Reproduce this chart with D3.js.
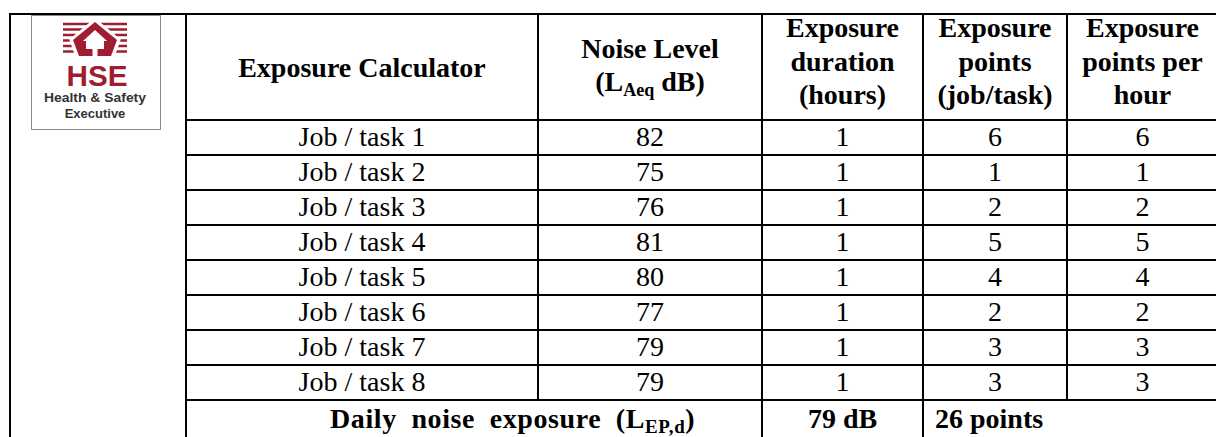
<!DOCTYPE html>
<html>
<head>
<meta charset="utf-8">
<title>Exposure Calculator</title>
<script src="https://d3js.org/d3.v7.min.js"></script>
<style>
  body { margin: 0; background: #fff; }
  text { font-family: "Liberation Serif", "Times New Roman", serif; fill: #000; }
  .logo text { font-family: "Liberation Sans", Arial, sans-serif; }
</style>
</head>
<body>
<script>
// table data
var tasks = ["Job / task 1", "Job / task 2", "Job / task 3", "Job / task 4",
             "Job / task 5", "Job / task 6", "Job / task 7", "Job / task 8"];
var noiseLevel = [82, 75, 76, 81, 80, 77, 79, 79];
var durationHours = [1, 1, 1, 1, 1, 1, 1, 1];
var pointsTask = [6, 1, 2, 5, 4, 2, 3, 3];
var pointsHour = [6, 1, 2, 5, 4, 2, 3, 3];
var headers = [
  ["Exposure Calculator"],
  ["Noise Level", "(L_{Aeq} dB)"],
  ["Exposure", "duration", "(hours)"],
  ["Exposure", "points", "(job/task)"],
  ["Exposure", "points per", "hour"]
];
var footerLabel = "Daily noise exposure (L_{EP,d})";
var dailyExposure = "79 dB";
var totalPoints = "26 points";

var width = 1216, height = 437;
var colEdges = [186, 538, 762, 923, 1067, 1218];
var tableTop = 14, headBottom = 120, tableLeft = 10;

var svg = d3.select("body").append("svg")
    .attr("width", width)
    .attr("height", height);

var y = d3.scaleBand()
    .domain(tasks)
    .range([headBottom, headBottom + 35 * tasks.length]);
var footTop = y.range()[1];

// text with _{sub} parts turned into tspans
function richText(sel, str, size, subSize) {
  var parts = str.split(/_\{([^}]*)\}/);
  var shift = 0;
  parts.forEach(function(p, i) {
    if (p === "") return;
    var isSub = i % 2 === 1;
    var want = isSub ? 5 : 0;
    sel.append("tspan")
      .attr("dy", want - shift)
      .attr("font-size", isSub ? subSize : size)
      .text(p);
    shift = want;
  });
}

// grid lines
var grid = svg.append("g")
    .attr("stroke", "#000")
    .attr("stroke-width", 2);

grid.append("line").attr("x1", tableLeft - 1).attr("x2", width + 5)
    .attr("y1", tableTop).attr("y2", tableTop);
grid.append("line").attr("x1", tableLeft).attr("x2", tableLeft)
    .attr("y1", tableTop).attr("y2", height + 5);
grid.append("line").attr("x1", colEdges[0]).attr("x2", colEdges[0])
    .attr("y1", tableTop).attr("y2", height + 5);

var hLines = [headBottom].concat(tasks.map(function(t) { return y(t) + y.bandwidth(); }));
grid.selectAll(".hline")
    .data(hLines)
    .enter().append("line")
    .attr("class", "hline")
    .attr("x1", colEdges[0]).attr("x2", width + 5)
    .attr("y1", function(d) { return d; })
    .attr("y2", function(d) { return d; });

// inner column separators (538 and 1067 stop at the footer, merged cells)
grid.selectAll(".vline")
    .data(colEdges.slice(1, 5))
    .enter().append("line")
    .attr("class", "vline")
    .attr("x1", function(d) { return d; })
    .attr("x2", function(d) { return d; })
    .attr("y1", tableTop)
    .attr("y2", function(d, i) { return (i === 1 || i === 2) ? height + 5 : footTop; });

// header
var headBase = { 1: [77], 2: [58, 91], 3: [37, 70.5, 104] };
headers.forEach(function(lines, c) {
  var cx = (colEdges[c] + colEdges[c + 1]) / 2;
  lines.forEach(function(line, j) {
    var t = svg.append("text")
      .attr("x", cx)
      .attr("y", headBase[lines.length][j])
      .attr("text-anchor", "middle")
      .attr("font-weight", "bold");
    richText(t, line, 28, 18);
  });
});

// body rows
var columns = [tasks, noiseLevel, durationHours, pointsTask, pointsHour];
columns.forEach(function(vals, c) {
  var cx = (colEdges[c] + colEdges[c + 1]) / 2;
  svg.selectAll(".c" + c)
    .data(vals)
    .enter().append("text")
    .attr("class", "c" + c)
    .attr("x", cx)
    .attr("y", function(d, i) { return y(tasks[i]) + y.bandwidth() - 9; })
    .attr("text-anchor", "middle")
    .attr("font-size", 28)
    .text(function(d) { return d; });
});

// footer row
var footBase = footTop + 28;
var ft = svg.append("text")
    .attr("x", 330)
    .attr("y", footBase)
    .attr("font-weight", "bold")
    .attr("letter-spacing", 0.6)
    .attr("word-spacing", 7);
richText(ft, footerLabel, 28, 19);
svg.append("text")
    .attr("x", (colEdges[2] + colEdges[3]) / 2)
    .attr("y", footBase)
    .attr("text-anchor", "middle")
    .attr("font-weight", "bold")
    .attr("font-size", 28)
    .text(dailyExposure);
svg.append("text")
    .attr("x", colEdges[3] + 12)
    .attr("y", footBase)
    .attr("font-weight", "bold")
    .attr("font-size", 28)
    .text(totalPoints);

// HSE logo
var red = "#a01c30";
var logo = svg.append("g").attr("class", "logo");
logo.append("rect")
    .attr("x", 31.5).attr("y", 15.5).attr("width", 129).attr("height", 114)
    .attr("fill", "#fff").attr("stroke", "#8a8a8a").attr("stroke-width", 1);
logo.selectAll(".stripe")
    .data([24, 29.5, 35, 40.5, 46, 51.5])
    .enter().append("line")
    .attr("class", "stripe")
    .attr("x1", 63).attr("x2", 127)
    .attr("y1", function(d) { return d; })
    .attr("y2", function(d) { return d; })
    .attr("stroke", red).attr("stroke-width", 2.4);
logo.append("path")
    .attr("d", "M95,20 L119,40 L113,57 L77,57 L71,40 Z")
    .attr("fill", "#fff").attr("stroke", "#fff").attr("stroke-width", 3);
logo.append("path")
    .attr("d", "M95,22 L117,40 L111,56 L97.5,56 L97.5,49 L104,49 L104,41 L107,41 L95,30 L83,41 L86,41 L86,49 L92.5,49 L92.5,56 L79,56 L73,40 Z")
    .attr("fill", red);
logo.append("text")
    .attr("x", 97).attr("y", 86)
    .attr("text-anchor", "middle")
    .attr("font-weight", "bold")
    .attr("font-size", 30)
    .attr("textLength", 61)
    .attr("lengthAdjust", "spacingAndGlyphs")
    .style("fill", red)
    .text("HSE");
logo.append("text")
    .attr("x", 95).attr("y", 102)
    .attr("text-anchor", "middle")
    .attr("font-weight", "bold")
    .attr("font-size", 13)
    .attr("textLength", 102)
    .attr("lengthAdjust", "spacingAndGlyphs")
    .style("fill", "#333")
    .text("Health & Safety");
logo.append("text")
    .attr("x", 95).attr("y", 118)
    .attr("text-anchor", "middle")
    .attr("font-weight", "bold")
    .attr("font-size", 13)
    .style("fill", "#333")
    .text("Executive");
</script>
</body>
</html>
